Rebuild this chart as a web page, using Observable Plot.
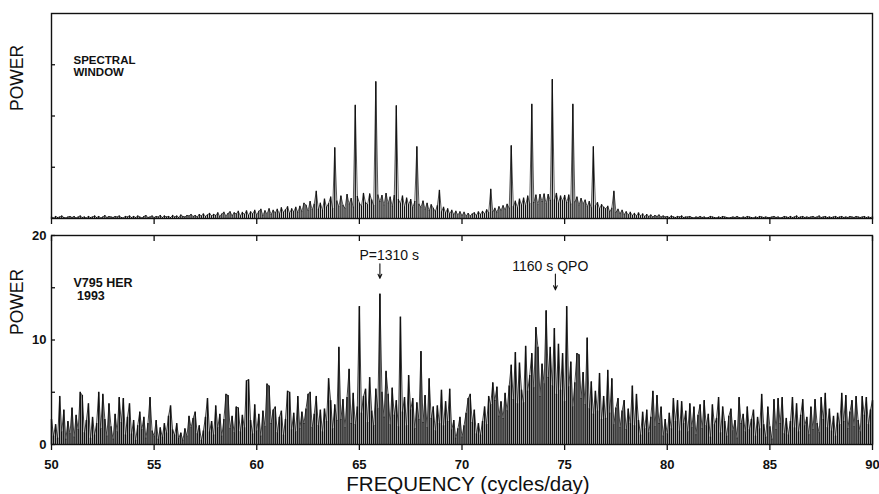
<!DOCTYPE html>
<html><head><meta charset="utf-8">
<script src="https://cdn.jsdelivr.net/npm/d3@7"></script>
<script src="https://cdn.jsdelivr.net/npm/@observablehq/plot@0.6"></script>
<style>
body{margin:0;background:#fff;}
#chart{position:relative;width:879px;height:494px;overflow:hidden;background:#fff;}
#chart svg{position:absolute;left:0;}
</style></head><body><div id="chart"></div>
<script>
// frequency grid (cycles/day)
const freqStart = 50, freqStep = 0.1;

// Spectral window power (arbitrary units, axis 0..4), one value per 0.1 c/d from 50.0 to 90.0
const windowPower = [
0.03,0.01,0.04,0.02,0.03,0.05,0.02,0.01,0.03,0.04,
0.02,0.04,0.01,0.03,0.05,0.02,0.03,0.01,0.04,0.02,
0.03,0.05,0.02,0.04,0.01,0.03,0.06,0.02,0.04,0.03,
0.02,0.04,0.03,0.05,0.02,0.01,0.04,0.03,0.05,0.02,
0.04,0.02,0.05,0.03,0.01,0.04,0.06,0.02,0.03,0.05,
0.02,0.04,0.03,0.06,0.02,0.05,0.03,0.04,0.02,0.06,
0.03,0.05,0.02,0.07,0.04,0.03,0.06,0.05,0.08,0.04,
0.06,0.03,0.08,0.05,0.09,0.04,0.07,0.10,0.05,0.08,
0.06,0.11,0.04,0.09,0.12,0.05,0.10,0.13,0.06,0.11,
0.09,0.14,0.05,0.12,0.08,0.15,0.06,0.13,0.09,0.16,
0.07,0.14,0.18,0.06,0.15,0.09,0.19,0.08,0.16,0.11,
0.18,0.09,0.21,0.12,0.17,0.23,0.10,0.19,0.13,0.22,
0.12,0.24,0.14,0.30,0.26,0.15,0.33,0.17,0.28,0.53,
0.18,0.30,0.16,0.38,0.22,0.29,0.42,0.19,1.38,0.34,
0.23,0.44,0.26,0.20,0.47,0.28,0.39,0.22,2.21,0.43,
0.30,0.24,0.49,0.31,0.27,0.48,0.36,0.25,2.67,0.46,
0.33,0.45,0.26,0.49,0.30,0.42,0.24,0.45,2.20,0.37,
0.29,0.44,0.23,0.40,0.27,0.37,0.21,0.33,1.40,0.28,
0.22,0.34,0.18,0.30,0.15,0.27,0.20,0.14,0.25,0.55,
0.13,0.22,0.11,0.19,0.09,0.16,0.08,0.14,0.07,0.13,
0.06,0.12,0.05,0.10,0.05,0.09,0.11,0.06,0.13,0.08,
0.14,0.09,0.17,0.11,0.57,0.13,0.20,0.12,0.23,0.16,
0.25,0.17,0.28,0.20,1.42,0.23,0.34,0.21,0.38,0.26,
0.40,0.25,0.44,0.29,2.23,0.31,0.46,0.27,0.47,0.33,
0.48,0.29,0.47,0.35,2.71,0.36,0.49,0.30,0.44,0.34,
0.45,0.31,0.46,0.28,2.23,0.32,0.42,0.26,0.39,0.29,
0.36,0.23,0.33,0.21,1.40,0.25,0.31,0.19,0.27,0.22,
0.19,0.24,0.13,0.20,0.53,0.12,0.18,0.10,0.16,0.08,
0.13,0.07,0.12,0.06,0.10,0.05,0.11,0.05,0.09,0.04,
0.08,0.04,0.07,0.03,0.06,0.04,0.07,0.03,0.05,0.03,
0.04,0.02,0.05,0.03,0.02,0.04,0.03,0.05,0.02,0.03,
0.03,0.04,0.02,0.01,0.03,0.02,0.04,0.02,0.03,0.01,
0.02,0.04,0.03,0.02,0.01,0.03,0.02,0.04,0.03,0.02,
0.01,0.02,0.03,0.02,0.04,0.02,0.01,0.03,0.02,0.04,
0.03,0.02,0.01,0.03,0.02,0.04,0.03,0.02,0.03,0.02,
0.02,0.03,0.04,0.02,0.03,0.01,0.02,0.04,0.03,0.02,
0.04,0.02,0.03,0.05,0.02,0.03,0.04,0.02,0.03,0.02,
0.03,0.04,0.02,0.03,0.05,0.02,0.03,0.04,0.02,0.03,
0.02,0.03,0.04,0.02,0.03,0.04,0.02,0.03,0.02,0.04,
0.03,0.02,0.04,0.03,0.02,0.03,0.04,0.02,0.03,0.02,
0.03
];

// V795 Her 1993 power spectrum, one value per 0.1 c/d from 50.0 to 90.0
const starPower = [
2.4,0.8,1.9,0.6,4.6,1.2,3.3,0.5,2.2,1.0,
3.5,0.7,2.8,1.4,5.0,4.7,1.1,2.3,3.9,0.6,
2.6,0.9,2.0,5.0,1.5,4.8,2.4,0.8,3.9,1.7,
0.5,2.9,1.2,4.5,2.1,4.4,0.9,2.6,3.9,1.0,
2.3,0.4,1.8,3.1,1.4,2.6,0.6,2.0,4.5,1.3,
0.8,2.3,0.5,1.6,0.7,2.0,1.1,2.7,3.7,1.4,
0.9,2.0,0.6,1.1,0.4,1.5,0.8,2.7,1.6,2.5,
3.1,1.0,1.8,0.4,1.3,2.6,4.4,1.2,2.2,0.9,
3.7,1.6,2.9,0.8,2.4,4.8,4.7,1.5,2.7,1.1,
3.6,3.5,1.2,2.8,1.6,6.1,6.2,2.3,1.0,3.8,
1.3,2.9,0.8,3.2,1.7,5.8,5.6,2.0,3.3,3.6,
1.1,2.6,3.2,0.9,2.4,5.1,5.0,1.4,3.0,1.2,
4.6,1.5,3.1,2.0,3.4,4.8,5.0,1.6,2.9,4.6,
1.8,3.3,1.2,3.4,2.2,6.3,4.2,1.5,3.8,2.3,
9.3,2.4,4.3,1.6,4.5,7.2,2.0,4.9,1.9,3.6,
13.2,3.0,4.6,5.3,2.1,6.4,3.2,1.8,5.3,3.4,
14.4,5.0,2.6,7.0,4.8,1.9,5.4,2.8,4.2,1.7,
12.2,3.1,4.5,1.8,6.6,3.3,4.4,1.5,4.0,2.4,
8.9,2.1,4.7,1.6,6.3,2.5,3.6,1.3,3.7,2.0,
5.2,1.8,4.1,2.2,5.3,1.4,2.3,0.6,1.5,2.6,
0.7,1.8,3.0,4.4,4.8,2.1,3.3,1.0,2.0,0.9,
2.2,3.6,1.9,4.6,3.8,5.9,4.2,5.5,2.7,4.1,
2.5,4.9,3.2,5.6,7.6,4.3,8.8,3.9,7.8,5.2,
4.0,9.4,5.1,6.6,8.7,5.4,11.2,9.3,4.6,7.7,
5.8,12.8,6.4,9.3,5.6,11.1,4.8,9.6,5.2,8.7,
4.1,13.2,5.5,7.9,3.6,5.9,8.7,8.6,4.4,6.9,
3.8,10.2,3.4,6.0,2.9,5.1,3.2,6.8,2.4,4.6,
2.5,7.1,3.0,6.3,1.9,3.5,4.4,1.6,3.2,4.2,
1.4,3.4,2.0,5.6,1.8,4.8,2.3,0.9,3.1,1.5,
3.3,1.1,2.6,5.1,1.7,4.7,2.0,3.6,0.8,2.4,
1.0,3.0,1.5,4.4,2.2,4.2,1.3,4.1,2.0,3.2,
1.2,3.9,1.6,3.6,0.9,2.8,3.8,1.5,4.2,1.8,
2.9,0.7,3.8,1.9,2.5,4.5,1.1,3.6,2.2,0.8,
2.7,3.4,1.3,2.3,0.6,4.5,2.0,2.9,1.2,3.6,
1.4,2.4,3.3,0.8,2.6,1.5,4.8,1.9,0.7,3.6,
1.7,0.5,4.3,1.4,4.4,2.0,4.5,1.0,2.5,0.9,
2.2,4.5,1.6,3.9,1.2,2.8,4.3,1.8,2.6,0.9,
3.6,1.4,4.3,2.0,1.1,4.5,2.4,4.9,1.6,3.4,
1.3,2.7,0.8,3.0,1.9,4.9,2.2,4.7,1.5,3.1,
4.2,1.7,4.6,2.3,1.2,4.6,2.8,4.5,1.9,3.3,
4.2
];

const xTicks = [50, 55, 60, 65, 70, 75, 80, 85, 90];
const windowYTicks = [1, 2, 3];
const starYTicks = [0, 5, 10, 15, 20];
const starYLabels = [0, 10, 20];

const annotationLabels = ["P=1310 s", "1160 s QPO"];
const annotationX = [65.0, 72.45];
const annotationY = [18.1, 17.05];
const arrowX = [66.0, 74.55];
const arrowFrom = [17.3, 16.3];
const arrowTo = [15.9, 14.8];

const windowRows = windowPower.map((p, i) => ({f: freqStart + i * freqStep, p}));
const starRows = starPower.map((p, i) => ({f: freqStart + i * freqStep, p}));
const noteRows = annotationLabels.map((label, i) => ({label, x: annotationX[i], y: annotationY[i]}));
const arrowRows = arrowX.map((x, i) => ({x, y1: arrowFrom[i], y2: arrowTo[i]}));

const font = "'Liberation Sans', Arial, Helvetica, sans-serif";
const ink = "#111";

const topPlot = Plot.plot({
  width: 879, height: 232,
  marginLeft: 51, marginRight: 7, marginTop: 13, marginBottom: 14,
  style: {fontFamily: font, background: "transparent", overflow: "visible", color: ink},
  x: {domain: [50, 90]},
  y: {domain: [0, 4]},
  marks: [
    Plot.ruleX(windowRows, {x: "f", y1: 0, y2: "p", stroke: ink, strokeWidth: 1.3}),
    Plot.lineY(windowRows, {x: "f", y: "p", stroke: ink, strokeWidth: 0.7}),
    Plot.frame({stroke: ink, strokeWidth: 1.4}),
    Plot.axisY(windowYTicks, {anchor: "left", tickSize: -4, tickFormat: () => "", label: null, strokeWidth: 1.3}),
    Plot.axisX(xTicks, {anchor: "bottom", tickSize: 6, tickFormat: () => "", label: null, strokeWidth: 1.3}),
    Plot.text(["POWER"], {frameAnchor: "left", dx: -34, dy: -5, rotate: -90, fontSize: 17.5, fill: ink}),
    Plot.text(["SPECTRAL\nWINDOW"], {frameAnchor: "top-left", dx: 22, dy: 42, textAnchor: "start", lineAnchor: "top", lineHeight: 1.05,
      fontSize: 11.5, fontWeight: "bold", fill: ink})
  ]
});

const bottomPlot = Plot.plot({
  width: 879, height: 272,
  marginLeft: 51, marginRight: 7, marginTop: 13, marginBottom: 50,
  style: {fontFamily: font, background: "transparent", overflow: "visible", color: ink},
  x: {domain: [50, 90]},
  y: {domain: [0, 20]},
  marks: [
    Plot.ruleX(starRows, {x: "f", y1: 0, y2: "p", stroke: ink, strokeWidth: 1.5}),
    Plot.lineY(starRows, {x: "f", y: "p", stroke: ink, strokeWidth: 0.8}),
    Plot.frame({stroke: ink, strokeWidth: 1.4}),
    Plot.axisY(starYTicks, {anchor: "left", tickSize: -4, tickFormat: () => "", label: null, strokeWidth: 1.3}),
    Plot.axisY(starYLabels, {anchor: "left", tickSize: 0, tickPadding: 5, label: null, fontSize: 13, fontWeight: "bold", fill: ink}),
    Plot.axisX(xTicks, {anchor: "top", tickSize: -5, tickFormat: () => "", label: null, strokeWidth: 1.3}),
    Plot.axisX(xTicks, {anchor: "bottom", tickSize: 6, tickPadding: 9, label: null, fontSize: 13, fontWeight: "bold", fill: ink, strokeWidth: 1.3}),
    Plot.text(["POWER"], {frameAnchor: "left", dx: -34, dy: -5, rotate: -90, fontSize: 17.5, fill: ink}),
    Plot.text(["V795 HER\n 1993"], {frameAnchor: "top-left", dx: 22, dy: 42, textAnchor: "start", lineAnchor: "top", lineHeight: 1.05,
      fontSize: 12.5, fontWeight: "bold", fill: ink}),
    Plot.text(noteRows, {x: "x", y: "y", text: "label", textAnchor: "start", fontSize: 14, fill: ink}),
    Plot.arrow(arrowRows, {x1: "x", x2: "x", y1: "y1", y2: "y2", headLength: 6, headAngle: 50, stroke: ink, strokeWidth: 1.1}),
    Plot.text(["FREQUENCY (cycles/day)"], {frameAnchor: "bottom", dx: 6, dy: 40, lineAnchor: "middle", fontSize: 20.5, fill: ink})
  ]
});

const chart = document.getElementById("chart");
topPlot.style.top = "0px";
bottomPlot.style.top = "222px";
chart.appendChild(topPlot);
chart.appendChild(bottomPlot);
</script>
</body></html>
